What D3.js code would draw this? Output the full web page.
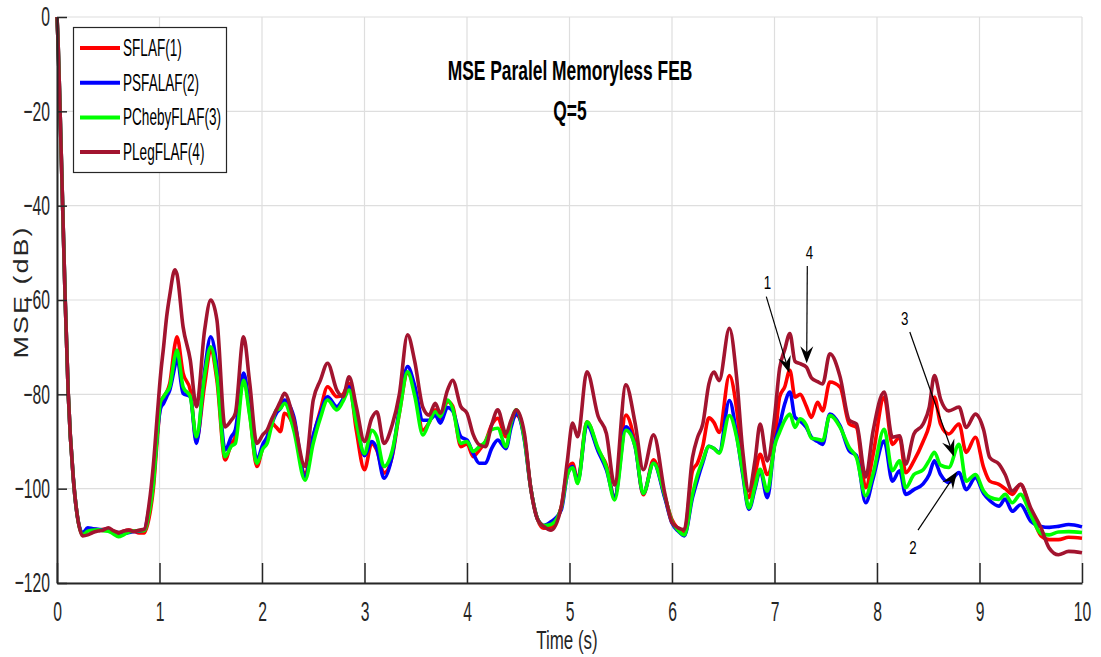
<!DOCTYPE html>
<html>
<head>
<meta charset="utf-8">
<script src="https://cdn.jsdelivr.net/npm/d3@7"></script>
<style>
  html, body { margin: 0; padding: 0; background: #fff; }
  svg { display: block; font-family: "Liberation Sans", Arial, sans-serif; }
</style>
</head>
<body>
<svg id="chart" width="1101" height="657"></svg>
<script>
// time axis (s), shared by all series
const time = [
  0, 0.01, 0.03, 0.055, 0.08, 0.11, 0.16, 0.2, 0.25, 0.3, 0.35, 0.4, 0.45, 0.5, 0.55, 0.6, 0.65, 0.7, 0.75, 0.8, 0.85, 0.9, 0.94, 0.98, 1.01,
  1.04, 1.07, 1.10, 1.15, 1.17, 1.23, 1.30, 1.36, 1.44, 1.50, 1.56, 1.64, 1.70, 1.74, 1.82, 1.88, 1.95,
  2.01, 2.05, 2.09, 2.14, 2.18, 2.22, 2.31, 2.42, 2.50, 2.57, 2.64, 2.73, 2.79, 2.85, 2.92, 3.00,
  3.07, 3.12, 3.19, 3.27, 3.34, 3.42, 3.49, 3.57, 3.63, 3.69, 3.74, 3.81, 3.86, 3.94, 4.00,
  4.06, 4.12, 4.18, 4.24, 4.30, 4.38, 4.43, 4.48, 4.56, 4.62, 4.69, 4.75, 4.82, 4.92, 4.98,
  5.03, 5.08, 5.17, 5.28, 5.36, 5.44, 5.55, 5.64, 5.72, 5.82, 5.93, 6.00,
  6.06, 6.12, 6.20, 6.25, 6.30, 6.36, 6.41, 6.46, 6.56, 6.63, 6.69, 6.75, 6.81, 6.86, 6.93, 7.00,
  7.05, 7.10, 7.15, 7.20, 7.25, 7.31, 7.36, 7.42, 7.47, 7.54, 7.64, 7.73, 7.80, 7.89, 7.96,
  8.07, 8.15, 8.22, 8.28, 8.36, 8.45, 8.51, 8.56, 8.62, 8.70, 8.80, 8.87, 8.96,
  9.04, 9.10, 9.19, 9.25, 9.32, 9.40, 9.50, 9.60, 9.68, 9.77, 9.87, 10.0,
];

// MSE (dB) per filter
const sflaf = [
  0, -5, -20, -40, -60, -80, -98, -106, -109.6, -108.5, -108.5, -108.8, -108.6, -108.6, -109, -109.5, -109, -108.8, -109, -109.4, -109.4, -106, -100, -89, -82,
  -80.5, -79.5, -77.7, -69.5, -67.8, -75.5, -79.1, -89.7, -78, -70.6, -77, -93.9, -90.5, -89.0, -76.3, -84, -95.3,
  -91.1, -89.5, -86.1, -87.0, -87.9, -84, -86.9, -96.7, -89.0, -83.3, -78.4, -80.5, -80, -77.7, -87.6, -96.0,
  -90.4, -91.8, -96.7, -93.2, -84, -75.5, -79, -87.6, -86, -83.3, -85.4, -81.5, -82.5, -91.1, -90.5,
  -93.2, -91.8, -90, -86.5, -85.1, -89.0, -86, -84.4, -89, -99.6, -106.6, -108.4, -108.1, -103.8, -96,
  -94.6, -98.2, -85.8, -91.8, -95, -101.7, -84.4, -90.4, -101.3, -93.9, -101.7, -106.6,
  -108.5, -109.5, -96.2, -94.5, -91, -85, -86, -88.1, -76.0, -83, -94.8, -101.9, -97, -92.7, -97.0, -90.6,
  -80.6, -78.4, -74.9, -80.6, -80, -82.5, -84.9, -81.7, -83.5, -77.4, -78.5, -86.3, -87, -99.8, -93,
  -80.6, -90.6, -89.1, -96.6, -94.1, -90, -86.5, -80.6, -86.3, -88.4, -86.3, -92.3, -89.1,
  -95.5, -98.4, -99.1, -100, -101.2, -99.1, -104.8, -110.0, -110.8, -110.8, -110.3, -110.5,
];
const psfalaf = [
  0, -5, -20, -40, -60, -80, -98, -106, -109.4, -108.3, -108.5, -108.6, -108.7, -108.5, -109.2, -109.3, -109.5, -109.3, -109.1, -109, -108.8, -104, -98, -88, -83,
  -81.9, -80.5, -79.1, -74, -72, -79.8, -80.5, -90.4, -75, -67.8, -74, -91.8, -89.0, -87.5, -75.5, -83, -93.9,
  -90.5, -89.0, -86.5, -84.0, -83, -81.2, -84.7, -97.5, -88.7, -84, -80.5, -82.6, -81, -78.4, -85.4, -93,
  -90.0, -91.5, -97.8, -93, -83, -74.1, -78.2, -85.5, -85.5, -84.4, -86.1, -82.8, -83.5, -89.0, -89.7,
  -92.5, -94.6, -94.6, -91.5, -89.7, -91.5, -87, -84.0, -89.7, -99.6, -106.5, -107.8, -107, -104.5, -97,
  -95.3, -98.5, -86.5, -92.1, -96, -101.7, -86.9, -91.1, -101, -94.6, -102, -107.3,
  -109, -110, -101.9, -98, -94.5, -91, -91.5, -92.3, -81.3, -88.5, -97, -104.4, -100, -96.2, -101.9, -90.6,
  -86.5, -82, -79.5, -84.9, -85.6, -87, -89.1, -90, -90.6, -84.2, -86.7, -92.0, -93, -103.0, -98,
  -89.9, -98.4, -96.2, -101.2, -100.2, -99, -97, -94.1, -97, -98.7, -96.6, -100.2, -97.7,
  -101, -102.5, -103.7, -102.2, -104.8, -103.4, -106.9, -108.0, -108.2, -108.0, -107.6, -108.1,
];
const pchebyflaf = [
  0, -5, -20, -40, -60, -80, -98, -106, -109.8, -109, -108.8, -108.7, -108.9, -109, -109.6, -110.2, -109.8, -109.2, -109, -108.9, -108.9, -105, -99, -88, -81.5,
  -80.5, -79.5, -78.4, -72, -70.6, -78.4, -80.5, -89.0, -76, -69.9, -76, -93.2, -91, -90.4, -77.0, -84.5, -94.6,
  -91.5, -90.4, -87, -83.3, -83, -81.9, -87.6, -98.2, -90.4, -85, -81.2, -83.3, -81.5, -79.1, -86, -92.6,
  -87.6, -89, -95.3, -92, -84, -75.2, -80.3, -88.6, -86, -83.7, -84.7, -81.2, -83, -90.4, -90.0,
  -92.1, -91.1, -90, -87.5, -87.2, -91.1, -86, -83.3, -89.5, -99.6, -106.5, -107.8, -107.6, -104, -97,
  -95.6, -98.9, -85.8, -91.5, -95.5, -102.4, -87.6, -91, -101, -94.6, -101.5, -107,
  -108.8, -109.8, -101.2, -97, -94, -91, -91.5, -92.5, -84.5, -89, -96.5, -104.1, -99.5, -95.9, -100.5, -91,
  -88, -85.5, -84.2, -87.0, -85.2, -86.5, -89.3, -89.5, -89.8, -84.5, -87.0, -91.3, -93.4, -101.5, -97,
  -87.4, -96.2, -94.1, -99.8, -97.0, -96, -94, -92.3, -95, -95.5, -90.6, -98.4, -97.0,
  -100.5, -101.8, -102.3, -101.2, -103.0, -101.2, -105.5, -109.5, -109.8, -109.2, -109.1, -109.3,
];
const plegflaf = [
  0, -5, -20, -40, -60, -80, -98, -106, -110, -109.8, -109.3, -109, -108.8, -108.3, -108.9, -109.3, -109, -108.8, -109.1, -108.8, -108.6, -103, -95, -84, -76,
  -69.9, -63.5, -59, -53.6, -54.5, -65.7, -72.7, -82.6, -66.4, -60.0, -64.2, -86.9, -85.5, -84.0, -67.8, -77.6, -90.4,
  -88.5, -87.6, -85.5, -83.3, -81.5, -79.8, -85.4, -95.3, -81.2, -77, -73.4, -79.1, -80.5, -76.3, -82.6, -90.0,
  -85.1, -83.7, -90.4, -86.5, -80, -67.4, -73, -82.8, -84.4, -81.9, -84.0, -79.1, -77.0, -82.6, -84.0,
  -88.5, -90.7, -91.1, -86.5, -83.3, -88.3, -85.5, -83.3, -88.3, -99.6, -106.6, -108, -108.8, -103.8, -93.9,
  -86.1, -89.0, -75.2, -84.7, -88.3, -99.2, -78.0, -86.1, -96.0, -88.6, -101.0, -107.2,
  -108.3, -108.7, -93.4, -89.1, -86.3, -77.8, -75.3, -77.1, -66.0, -76.3, -92.0, -100.5, -94, -86.3, -94.1, -84.9,
  -74.5, -70.5, -67.1, -73.0, -73.5, -74.2, -76.5, -77.3, -77.8, -71.4, -76.3, -85.5, -86.3, -97.5, -88,
  -79.5, -89.1, -88.8, -94.8, -88.4, -86.3, -82.7, -76.0, -81, -83.5, -82.7, -87.0, -84.2,
  -87.5, -93.4, -94.8, -97, -100.5, -99.1, -104.1, -108.3, -112.6, -114.0, -113.3, -113.6,
];

const seriesNames = ['SFLAF(1)', 'PSFALAF(2)', 'PChebyFLAF(3)', 'PLegFLAF(4)'];
const seriesColors = ['#ff0000', '#0000ff', '#00ff00', '#a2142f'];
const seriesValues = [sflaf, psfalaf, pchebyflaf, plegflaf];

const xTicks = [0, 1, 2, 3, 4, 5, 6, 7, 8, 9, 10];
const yTicks = [0, -20, -40, -60, -80, -100, -120];

// arrow annotations, in data units: label position, arrow tail, arrow tip
const annotLabels = ['1', '4', '3', '2'];
const annotText = [[6.93, -56.3], [7.34, -49.9], [8.27, -63.8], [8.35, -112.3]];
const annotFrom = [[6.92, -59.3], [7.32, -52.8], [8.32, -66.8], [8.40, -108.8]];
const annotTo = [[7.145, -75.5], [7.314, -73.4], [8.75, -93.2], [8.78, -96.4]];

const svg = d3.select('#chart');
const plotLeft = 57;
const plotRight = 1082;
const plotTop = 17;
const plotBottom = 583;
const ink = '#262626';

const x = d3.scaleLinear().domain([0, 10]).range([plotLeft, plotRight]);
const y = d3.scaleLinear().domain([-120, 0]).range([plotBottom, plotTop]);

// grid
const grid = svg.append('g').attr('stroke', '#dedede').attr('stroke-width', 1.2);
grid.selectAll('.gx')
    .data(xTicks)
    .join('line')
    .attr('class', 'gx')
    .attr('x1', (d) => x(d)).attr('x2', (d) => x(d))
    .attr('y1', plotTop).attr('y2', plotBottom);
grid.selectAll('.gy')
    .data(yTicks)
    .join('line')
    .attr('class', 'gy')
    .attr('x1', plotLeft).attr('x2', plotRight)
    .attr('y1', (d) => y(d)).attr('y2', (d) => y(d));

// series
const line = d3.line()
    .curve(d3.curveMonotoneX)
    .x((d, i) => x(time[i]))
    .y((d) => y(d));

svg.append('g')
    .selectAll('path')
    .data(seriesValues)
    .join('path')
    .attr('fill', 'none')
    .attr('stroke', (d, i) => seriesColors[i])
    .attr('stroke-width', 3.6)
    .attr('stroke-linejoin', 'round')
    .attr('d', line);

// axes
const xAxis = svg.append('g')
    .attr('transform', `translate(0,${plotBottom})`)
    .call(d3.axisBottom(x).tickValues(xTicks).tickSize(-20).tickPadding(18).tickSizeOuter(0));
const yAxis = svg.append('g')
    .attr('transform', `translate(${plotLeft},0)`)
    .call(d3.axisLeft(y).tickValues(yTicks).tickSize(-10).tickPadding(7).tickSizeOuter(0));

const tickScale = 0.56;
[xAxis, yAxis].forEach((ax) => {
  ax.select('.domain').attr('stroke', ink).attr('stroke-width', 2);
  ax.selectAll('.tick line').attr('stroke', ink).attr('stroke-width', 1.5);
  ax.selectAll('.tick text')
      .attr('fill', ink)
      .attr('font-size', 28)
      .attr('font-family', '"Liberation Sans", Arial, sans-serif');
});
xAxis.selectAll('.tick text').attr('transform', `scale(${tickScale},1)`);
yAxis.selectAll('.tick text')
    .attr('x', -7 / tickScale)
    .attr('transform', `scale(${tickScale},1)`);

// titles
const title = svg.append('g').attr('font-weight', 'bold').attr('font-size', 27).attr('fill', '#000');
title.append('text')
    .attr('text-anchor', 'middle')
    .attr('transform', 'translate(570,80) scale(0.645,1)')
    .text('MSE Paralel Memoryless FEB');
title.append('text')
    .attr('text-anchor', 'middle')
    .attr('transform', 'translate(570,120) scale(0.645,1)')
    .text('Q=5');

svg.append('text')
    .attr('text-anchor', 'middle')
    .attr('font-size', 26)
    .attr('fill', ink)
    .attr('transform', 'translate(567,649) scale(0.65,1)')
    .text('Time (s)');

svg.append('text')
    .attr('text-anchor', 'middle')
    .attr('font-size', 27)
    .attr('letter-spacing', 2)
    .attr('fill', ink)
    .attr('transform', 'translate(27.5,292) rotate(-90) scale(1,0.78)')
    .text('MSE (dB)');

// annotations
const ann = svg.append('g');
annotLabels.forEach((lab, i) => {
  const x0 = x(annotFrom[i][0]);
  const y0 = y(annotFrom[i][1]);
  const x1 = x(annotTo[i][0]);
  const y1 = y(annotTo[i][1]);
  const ang = Math.atan2(y1 - y0, x1 - x0);
  const len = 17;
  const half = 6.5;
  const back = 11;
  const ux = Math.cos(ang);
  const uy = Math.sin(ang);
  const bx = x1 - ux * len;
  const by = y1 - uy * len;
  const nx = x1 - ux * back;
  const ny = y1 - uy * back;
  ann.append('line')
      .attr('x1', x0).attr('y1', y0)
      .attr('x2', nx).attr('y2', ny)
      .attr('stroke', '#000')
      .attr('stroke-width', 1.2);
  ann.append('path')
      .attr('fill', '#000')
      .attr('d', `M${x1},${y1}L${bx - uy * half},${by + ux * half}L${nx},${ny}L${bx + uy * half},${by - ux * half}Z`);
  ann.append('text')
      .attr('text-anchor', 'middle')
      .attr('dy', '0.36em')
      .attr('font-size', 19)
      .attr('fill', '#000')
      .attr('transform', `translate(${x(annotText[i][0])},${y(annotText[i][1])}) scale(0.7,1)`)
      .text(lab);
});

// legend
const legend = svg.append('g');
legend.append('rect')
    .attr('x', 73.5).attr('y', 27.5)
    .attr('width', 153).attr('height', 145)
    .attr('fill', '#fff')
    .attr('stroke', ink)
    .attr('stroke-width', 1.2);
const entry = legend.selectAll('.entry')
    .data(seriesNames)
    .join('g')
    .attr('class', 'entry')
    .attr('transform', (d, i) => `translate(0,${48 + i * 34.7})`);
entry.append('line')
    .attr('x1', 80).attr('x2', 120)
    .attr('stroke', (d, i) => seriesColors[i])
    .attr('stroke-width', 4);
entry.append('text')
    .attr('font-size', 23)
    .attr('fill', '#000')
    .attr('dy', '0.35em')
    .attr('transform', 'translate(123,0) scale(0.59,1)')
    .text((d) => d);
</script>
</body>
</html>
